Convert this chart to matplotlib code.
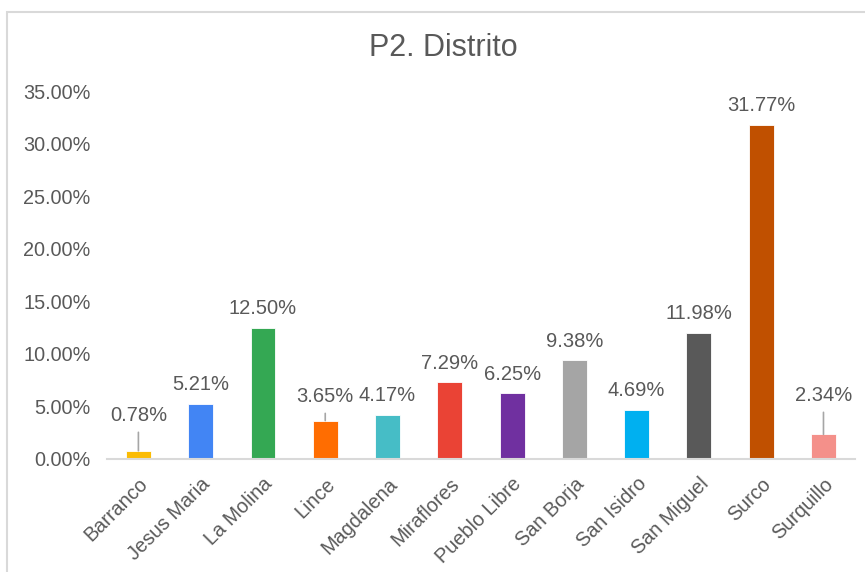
import matplotlib
matplotlib.use('Agg')
import matplotlib.pyplot as plt
from matplotlib.patches import Rectangle
from matplotlib.ticker import PercentFormatter

plt.rcParams['font.family'] = ['Liberation Sans', 'DejaVu Sans']

districts = ['Barranco', 'Jesus Maria', 'La Molina', 'Lince', 'Magdalena', 'Miraflores',
             'Pueblo Libre', 'San Borja', 'San Isidro', 'San Miguel', 'Surco', 'Surquillo']
shares = [0.78, 5.21, 12.50, 3.65, 4.17, 7.29, 6.25, 9.38, 4.69, 11.98, 31.77, 2.34]
colors = ['#FBBC04', '#4285F4', '#34A853', '#FF6D01', '#46BDC6', '#EA4335',
          '#7030A0', '#A5A5A5', '#00B0F0', '#595959', '#C05000', '#F4908A']

# labels pulled up with a leader line (label centre, in % units)
leader_pos = {0: 4.1, 3: 5.9, 11: 6.0}

txt = '#595959'

fig = plt.figure(figsize=(8.65, 5.72), dpi=100)
ax = fig.add_axes([0.124, 0.1976, 0.864, 0.6433])

x = range(len(districts))
ax.bar(x, shares, width=0.4, color=colors, edgecolor='white', linewidth=0.6)

for i, v in enumerate(shares):
    lab = '%.2f%%' % v
    if i in leader_pos:
        ax.annotate(lab, xy=(i, v), xytext=(i, leader_pos[i]), ha='center', va='center',
                    fontsize=14.5, color=txt,
                    arrowprops=dict(arrowstyle='-', color='#A6A6A6', lw=1.2,
                                    shrinkA=3, shrinkB=0))
    else:
        ax.annotate(lab, xy=(i, v), xytext=(0, 7), textcoords='offset points',
                    ha='center', va='bottom', fontsize=14.5, color=txt)

ax.set_xlim(-0.5, len(districts) - 0.5)
ax.set_ylim(0, 35)
ax.set_yticks([0, 5, 10, 15, 20, 25, 30, 35])
ax.yaxis.set_major_formatter(PercentFormatter(decimals=2))
ax.set_xticks(list(x))
ax.set_xticklabels(districts, rotation=45, ha='right', rotation_mode='anchor')
ax.tick_params(axis='both', length=0, labelsize=14.3, labelcolor=txt)
ax.tick_params(axis='y', pad=12)
ax.tick_params(axis='x', pad=11)
for t in ax.get_xticklabels():
    t.set_x(t.get_position()[0])

for s in ['top', 'right', 'left']:
    ax.spines[s].set_visible(False)
ax.spines['bottom'].set_color('#D9D9D9')
ax.spines['bottom'].set_linewidth(1.5)

fig.text(0.513, 0.916, 'P2. Distrito', ha='center', va='center', fontsize=22, color=txt)

# outer chart frame (cut off on the right and bottom)
fig.patches.append(Rectangle((7 / 865., -0.1), 1.2, 1 - 12 / 572. + 0.1, fill=False,
                             edgecolor='#D9D9D9', linewidth=1.5, transform=fig.transFigure))

fig.savefig('out.png', dpi=100)
